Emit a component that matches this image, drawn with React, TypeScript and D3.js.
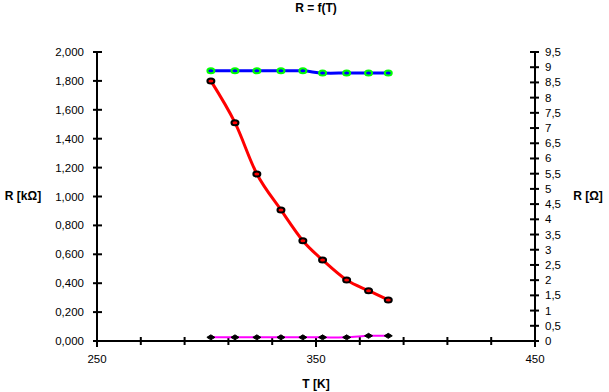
import React, { useEffect, useRef } from "react";
import * as d3 from "d3";

// Temperature [K]
const temps = [302, 313, 323, 334, 344, 353, 364, 374, 383];
// Left axis series, R [kOhm]
const rKohm = [1.8, 1.511, 1.156, 0.907, 0.694, 0.561, 0.422, 0.348, 0.284];
// Right axis series, R [Ohm]
const rOhmHigh = [8.88, 8.88, 8.88, 8.88, 8.88, 8.81, 8.81, 8.81, 8.81];
const rOhmLow = [0.12, 0.12, 0.12, 0.12, 0.12, 0.12, 0.12, 0.17, 0.17];

const xMajorTicks = [250, 350, 450];
const xMinorTicks = d3.range(250, 451, 20);
const leftTicks = d3.range(0, 2.0001, 0.2);
const rightTicks = d3.range(0, 9.5001, 0.5);

export default function App() {
  const svgRef = useRef<SVGSVGElement | null>(null);

  useEffect(() => {
    document.body.style.margin = "0";
    if (!svgRef.current) return;
    const svg = d3.select(svgRef.current);
    svg.selectAll("*").remove();

    const left = 97;
    const right = 535;
    const top = 52;
    const bottom = 341;
    const font = "Liberation Sans, Arial, sans-serif";
    const tickSize = 11.5;
    const titleSize = 12;

    const x = d3.scaleLinear().domain([250, 450]).range([left, right]);
    const yL = d3.scaleLinear().domain([0, 2]).range([bottom, top]);
    const yR = d3.scaleLinear().domain([0, 9.5]).range([bottom, top]);

    const g = svg.append("g");

    // X axis
    g.append("line")
      .attr("x1", left).attr("x2", right).attr("y1", bottom).attr("y2", bottom)
      .attr("stroke", "#000").attr("stroke-width", 2);
    g.selectAll(".xminor").data(xMinorTicks).enter().append("line")
      .attr("x1", (d) => x(d)).attr("x2", (d) => x(d))
      .attr("y1", bottom - 4).attr("y2", (d) => (xMajorTicks.includes(d) ? bottom + 6 : bottom + 4))
      .attr("stroke", "#000").attr("stroke-width", 2);
    g.selectAll(".xlab").data(xMajorTicks).enter().append("text")
      .attr("x", (d) => x(d)).attr("y", bottom + 22)
      .attr("text-anchor", "middle").attr("font-family", font).attr("font-size", tickSize)
      .text((d) => d);

    // Left axis
    g.append("line")
      .attr("x1", left).attr("x2", left).attr("y1", top).attr("y2", bottom)
      .attr("stroke", "#000").attr("stroke-width", 2);
    g.selectAll(".lt").data(leftTicks).enter().append("line")
      .attr("x1", left - 4).attr("x2", left + 5)
      .attr("y1", (d) => yL(d)).attr("y2", (d) => yL(d))
      .attr("stroke", "#000").attr("stroke-width", 2);
    g.selectAll(".ll").data(leftTicks).enter().append("text")
      .attr("x", left - 13).attr("y", (d) => yL(d) + 4)
      .attr("text-anchor", "end").attr("font-family", font).attr("font-size", tickSize)
      .text((d) => d.toFixed(3).replace(".", ","));

    // Right axis
    g.append("line")
      .attr("x1", right).attr("x2", right).attr("y1", top).attr("y2", bottom)
      .attr("stroke", "#000").attr("stroke-width", 2);
    g.selectAll(".rt").data(rightTicks).enter().append("line")
      .attr("x1", right - 5).attr("x2", right + 4)
      .attr("y1", (d) => yR(d)).attr("y2", (d) => yR(d))
      .attr("stroke", "#000").attr("stroke-width", 2);
    g.selectAll(".rl").data(rightTicks).enter().append("text")
      .attr("x", right + 10).attr("y", (d) => yR(d) + 4)
      .attr("text-anchor", "start").attr("font-family", font).attr("font-size", tickSize)
      .text((d) => String(Math.round(d * 10) / 10).replace(".", ","));

    // Titles
    g.append("text").attr("x", 316).attr("y", 12).attr("text-anchor", "middle")
      .attr("font-family", font).attr("font-size", titleSize).attr("font-weight", "bold")
      .text("R = f(T)");
    g.append("text").attr("x", 316).attr("y", 388).attr("text-anchor", "middle")
      .attr("font-family", font).attr("font-size", titleSize).attr("font-weight", "bold")
      .text("T [K]");
    g.append("text").attr("x", 23).attr("y", 200).attr("text-anchor", "middle")
      .attr("font-family", font).attr("font-size", titleSize).attr("font-weight", "bold")
      .text("R [kΩ]");
    g.append("text").attr("x", 588).attr("y", 200).attr("text-anchor", "middle")
      .attr("font-family", font).attr("font-size", titleSize).attr("font-weight", "bold")
      .text("R [Ω]");

    const curve = d3.curveCardinal.tension(0);
    const lineL = d3.line<number>().x((_, i) => x(temps[i])).y((d) => yL(d)).curve(curve);
    const lineR = d3.line<number>().x((_, i) => x(temps[i])).y((d) => yR(d)).curve(curve);

    // Magenta low series
    g.append("path").attr("d", lineR(rOhmLow)!).attr("fill", "none")
      .attr("stroke", "#ff00ff").attr("stroke-width", 2);
    g.selectAll(".mk3").data(rOhmLow).enter().append("path")
      .attr("transform", (d, i) => `translate(${x(temps[i])},${yR(d)})`)
      .attr("d", "M-4,0L0,-2.5L4,0L0,2.5Z")
      .attr("fill", "#000").attr("stroke", "#000").attr("stroke-width", 1);

    // Blue high series
    g.append("path").attr("d", lineR(rOhmHigh)!).attr("fill", "none")
      .attr("stroke", "#0000ff").attr("stroke-width", 3);
    g.selectAll(".mk2").data(rOhmHigh).enter().append("ellipse")
      .attr("cx", (_, i) => x(temps[i])).attr("cy", (d) => yR(d))
      .attr("rx", 3.5).attr("ry", 2.5)
      .attr("fill", "#0000ff").attr("stroke", "#00ff00").attr("stroke-width", 2);

    // Red series
    g.append("path").attr("d", lineL(rKohm)!).attr("fill", "none")
      .attr("stroke", "#ff0000").attr("stroke-width", 3);
    g.selectAll(".mk1").data(rKohm).enter().append("ellipse")
      .attr("cx", (_, i) => x(temps[i])).attr("cy", (d) => yL(d))
      .attr("rx", 3.5).attr("ry", 2.5)
      .attr("fill", "#ff0000").attr("stroke", "#000").attr("stroke-width", 2);
  }, []);

  return (
    <svg ref={svgRef} width={609} height={392} style={{ display: "block", background: "#fff" }} />
  );
}
